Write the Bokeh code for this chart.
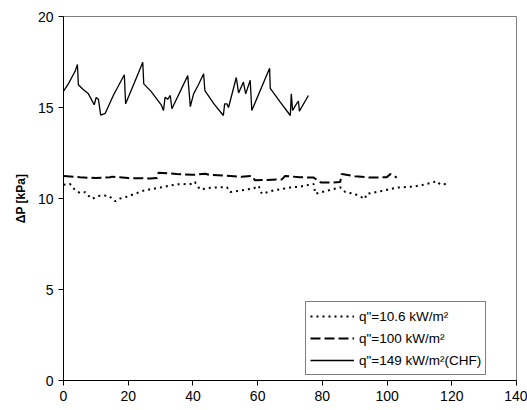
from bokeh.plotting import figure
from bokeh.models import Range1d, FixedTicker
from bokeh.embed import file_html
from bokeh.resources import INLINE

# --- data ---
x_q10 = [0, 2, 3.6, 5.2, 6.7, 8.2, 8.8, 11.3, 12.4, 14, 16, 17.5, 19.6, 25, 29.9, 35, 40.2, 40.6,
         42.2, 46, 50.5, 51.5, 55, 58.7, 60.3, 61.3, 65, 70, 73, 77.3, 77.8, 82, 85.5, 87.1, 90,
         93.2, 93.6, 98, 103, 108, 111.2, 115.4, 116.4, 118.5]
y_q10 = [10.75, 10.8, 10.45, 10.3, 10.35, 10.07, 9.98, 10.16, 10.16, 10.15, 9.85, 10.0, 10.1,
         10.45, 10.6, 10.78, 10.8, 10.9, 10.5, 10.6, 10.62, 10.35, 10.45, 10.55, 10.7, 10.26,
         10.45, 10.6, 10.65, 10.8, 10.26, 10.45, 10.62, 10.35, 10.25, 9.98, 10.25, 10.4, 10.6,
         10.65, 10.75, 10.95, 10.77, 10.8]

x_q100 = [0, 5, 10, 14.4, 15, 20, 26.8, 28.9, 29.4, 35, 40, 43.8, 45, 50, 55, 58.2, 59.2, 63,
          67.5, 68.5, 73, 77.3, 79.5, 83.4, 85.5, 86.0, 90, 95, 99.9, 101, 103]
y_q100 = [11.23, 11.17, 11.12, 11.17, 11.2, 11.12, 11.1, 11.12, 11.42, 11.35, 11.3, 11.36, 11.3,
          11.25, 11.2, 11.24, 11.0, 11.02, 11.05, 11.24, 11.17, 11.15, 10.88, 10.88, 10.9, 11.35,
          11.22, 11.15, 11.17, 11.34, 11.15]

x_chf = [0, 1.5, 3.0, 3.6, 4.3, 4.6, 6.0, 7.7, 9.5, 10.1, 10.8, 11.5, 12.9, 15.5, 18.8, 19.2,
         22.0, 24.5, 24.8, 27.0, 30.2, 30.9, 31.4, 32.2, 33.0, 33.5, 38.4, 39.2, 40.2, 41.7, 43.3,
         43.7, 46.5, 49.4, 49.8, 50.5, 51.0, 53.4, 54.1, 55.1, 55.6, 56.3, 57.7, 58.2, 63.7, 63.9,
         67.0, 70.1, 70.4, 70.8, 72.0, 72.6, 72.9, 75.7]
y_chf = [15.9, 16.3, 16.8, 17.0, 17.36, 16.25, 16.0, 15.75, 15.15, 15.55, 15.45, 14.58, 14.68,
         15.7, 16.8, 15.2, 16.4, 17.49, 16.3, 15.9, 15.15, 14.84, 15.57, 15.45, 15.66, 14.93,
         16.75, 15.05, 15.75, 16.25, 16.85, 15.93, 15.2, 14.56, 15.2, 15.2, 15.0, 16.65, 15.8,
         16.2, 16.4, 15.75, 16.5, 14.84, 17.15, 16.05, 15.3, 14.56, 15.75, 14.84, 15.2, 15.35,
         14.8, 15.66]

x_ticks = [0, 20, 40, 60, 80, 100, 120, 140]
y_ticks = [0, 5, 10, 15, 20]

labels = ['q"=10.6 kW/m²', 'q"=100 kW/m²', 'q"=149 kW/m²(CHF)']
y_label = "ΔP [kPa]"

FONT = "Liberation Sans"

p = figure(width=527, height=410, output_backend="svg", toolbar_location=None,
           x_range=Range1d(0, 140), y_range=Range1d(0, 20),
           min_border_left=63, min_border_right=11, min_border_top=16, min_border_bottom=30)

p.line(x_q10, y_q10, line_color="black", line_width=2, line_dash="2 4", legend_label=labels[0])
p.line(x_q100, y_q100, line_color="black", line_width=2, line_dash="10 4", legend_label=labels[1])
p.line(x_chf, y_chf, line_color="black", line_width=1.3, legend_label=labels[2])

p.xgrid.visible = False
p.ygrid.visible = False
p.outline_line_color = "#808080"
p.outline_line_width = 1
p.background_fill_color = "white"
p.border_fill_color = "white"

p.xaxis.ticker = FixedTicker(ticks=x_ticks)
p.yaxis.ticker = FixedTicker(ticks=y_ticks)
for ax in (p.xaxis[0], p.yaxis[0]):
    ax.axis_line_color = "black"
    ax.major_tick_line_color = "black"
    ax.major_tick_out = 5
    ax.major_tick_in = 0
    ax.minor_tick_line_color = None
    ax.major_label_text_font = FONT
    ax.major_label_text_font_size = "14px"
    ax.major_label_text_color = "black"
    ax.major_label_standoff = 5

p.yaxis.axis_label = y_label
p.yaxis.axis_label_text_font = FONT
p.yaxis.axis_label_text_font_style = "bold"
p.yaxis.axis_label_text_font_size = "12px"
p.yaxis.axis_label_text_color = "black"
p.yaxis.axis_label_standoff = 7

lg = p.legend[0]
lg.location = (242, 5)
lg.border_line_color = "black"
lg.border_line_width = 1
lg.background_fill_color = "white"
lg.background_fill_alpha = 1
lg.label_text_font = FONT
lg.label_text_font_size = "13.5px"
lg.label_text_color = "black"
lg.glyph_width = 44
lg.glyph_height = 20
lg.label_height = 20
lg.label_standoff = 5
lg.spacing = 2
lg.padding = 4
lg.margin = 0

open("out.html", "w").write(file_html(p, INLINE))
